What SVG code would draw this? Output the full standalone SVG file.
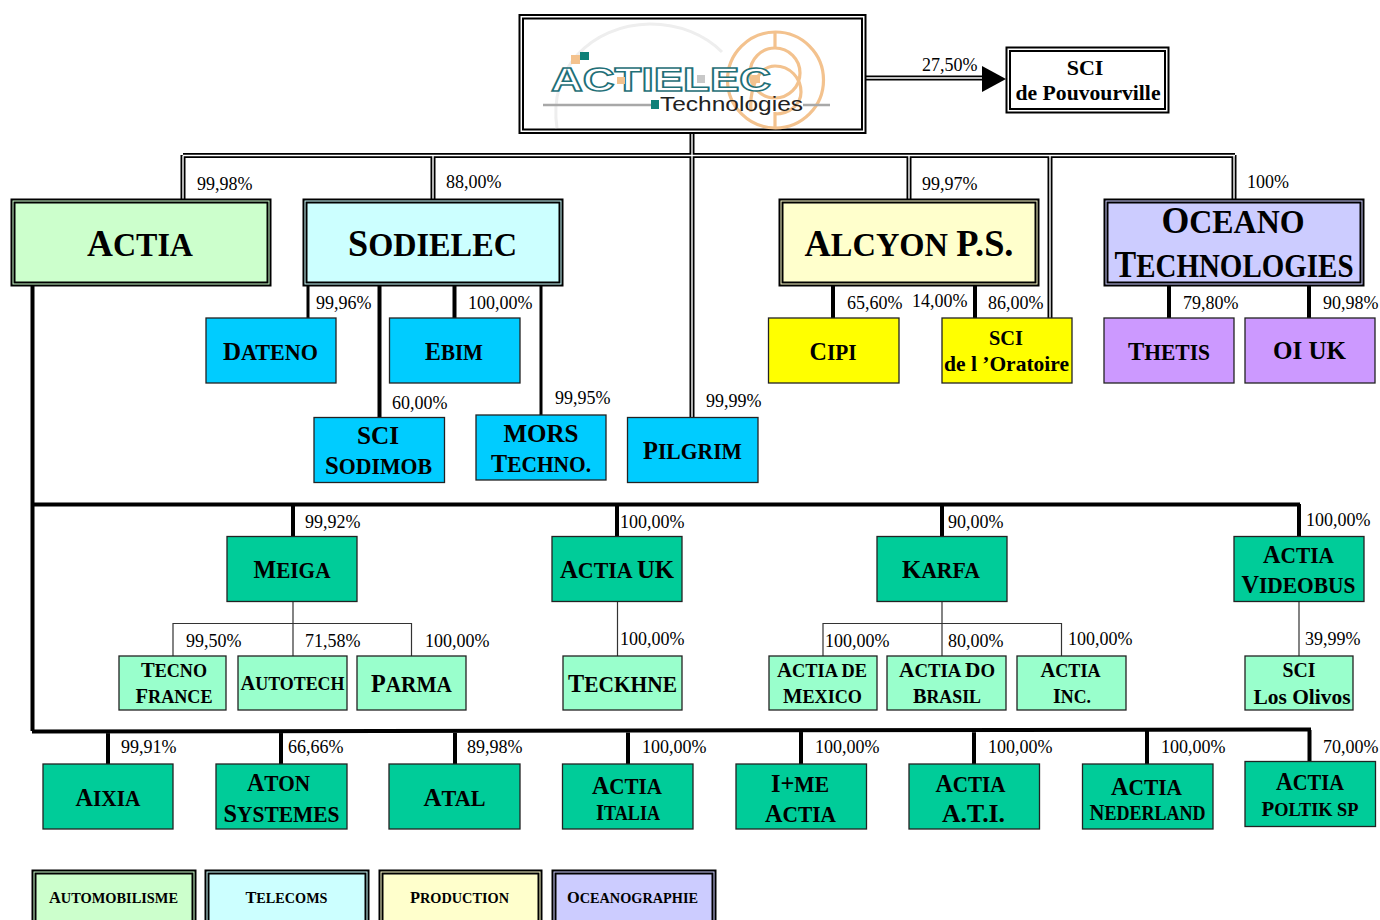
<svg xmlns="http://www.w3.org/2000/svg" width="1380" height="920" viewBox="0 0 1380 920">
<style>
text{font-family:"Liberation Serif","Times New Roman",serif;fill:#000}
.p{font-size:18px}
.t{font-weight:bold;text-anchor:middle}
.xl{font-size:37px}.xl tspan{font-size:33px}
.lg{font-size:26px}.lg tspan{font-size:23px}
.md{font-size:24px}.md tspan{font-size:21px}
.sm{font-size:21px}.sm tspan{font-size:18.500px}
.xs{font-size:16px}.xs tspan{font-size:14px}
.pl{font-size:22px}
.w{fill:#fff;stroke:#000;stroke-width:2}
.b,.y,.v,.g,.m{stroke:#222;stroke-width:1.300}
.b{fill:#00ccff}.y{fill:#ffff00}.v{fill:#cc99ff}.g{fill:#00cc99}.m{fill:#99ffcc}
.o{fill:none;stroke:#000;stroke-width:2}
.dbl{fill:none;stroke:#000;stroke-width:5}
.dbw{fill:none;stroke:#fff;stroke-width:1.400}
.k3{stroke:#000;stroke-width:3;fill:none}
.k4{stroke:#000;stroke-width:4;fill:none}
.k1{stroke:#333;stroke-width:1.200;fill:none}
.ring{fill:none;stroke:#f3c28e;stroke-width:3.200}
</style>
<g id="connectors">
<path class="dbl" d="M183 155.500H1235M183 155V199M433 155V199M692 134V417M909 155V199M1050 155V318M1234 155V199M866 78H985"/>
<path class="dbw" d="M183 155.500H1235M183 155.500V199M433 155.500V199M692 134V417M909 155.500V199M1050 155.500V318M1234 155.500V199M866 78H985"/>
<path d="M982 66L1006 79L982 92Z" fill="#000"/>
<path class="k3" d="M308 286V318M541 286V415"/>
<path class="k4" d="M379.500 286V417M454.500 286V318M833 286V318M975 286V318M1169 286V318M1309 286V318"/>
<path class="k4" d="M32.500 286V731M32 504.500H1300M293 504V536M617 504V536M942 504V536M1299 504V536"/>
<path class="k4" d="M32 731.500L1311 729.500M108 731V764M281 731V764M455 731V764M628 731V764M801 731V764M974 731V764M1147 731V764M1309.500 730V761"/>
<path class="k1" d="M293 602V656M173 656V623.500H411.500V656M617.500 602V656M942 602V656M823 656V623.500H1061.500V656M1299 602V656"/>
</g>
<g id="labels">
<text class="p" x="922" y="71">27,50%</text>
<text class="p" x="197" y="190">99,98%</text>
<text class="p" x="446" y="188">88,00%</text>
<text class="p" x="922" y="190">99,97%</text>
<text class="p" x="1247" y="188">100%</text>
<text class="p" x="316" y="309">99,96%</text>
<text class="p" x="468" y="309">100,00%</text>
<text class="p" x="847" y="309">65,60%</text>
<text class="p" x="912" y="307">14,00%</text>
<text class="p" x="988" y="309">86,00%</text>
<text class="p" x="1183" y="309">79,80%</text>
<text class="p" x="1323" y="309">90,98%</text>
<text class="p" x="392" y="409">60,00%</text>
<text class="p" x="555" y="404">99,95%</text>
<text class="p" x="706" y="407">99,99%</text>
<text class="p" x="305" y="528">99,92%</text>
<text class="p" x="620" y="528">100,00%</text>
<text class="p" x="948" y="528">90,00%</text>
<text class="p" x="1306" y="526">100,00%</text>
<text class="p" x="186" y="647">99,50%</text>
<text class="p" x="305" y="647">71,58%</text>
<text class="p" x="425" y="647">100,00%</text>
<text class="p" x="620" y="645">100,00%</text>
<text class="p" x="825" y="647">100,00%</text>
<text class="p" x="948" y="647">80,00%</text>
<text class="p" x="1068" y="645">100,00%</text>
<text class="p" x="1305" y="645">39,99%</text>
<text class="p" x="121" y="753">99,91%</text>
<text class="p" x="288" y="753">66,66%</text>
<text class="p" x="467" y="753">89,98%</text>
<text class="p" x="642" y="753">100,00%</text>
<text class="p" x="815" y="753">100,00%</text>
<text class="p" x="988" y="753">100,00%</text>
<text class="p" x="1161" y="753">100,00%</text>
<text class="p" x="1323" y="753">70,00%</text>
</g>
<g id="actielec">
<rect class="w" x="519.500" y="15" width="346" height="118"/>
<rect class="o" x="523" y="18.500" width="339" height="111"/>
<path d="M557 128C548 70 590 25 650 24C680 24 705 35 722 52" fill="none" stroke="#eeeeee" stroke-width="3"/>
<ellipse class="ring" cx="775.500" cy="80" rx="48" ry="48"/>
<circle class="ring" cx="775" cy="73" r="25"/>
<path class="ring" d="M751 112C749 85 760 66 775 66C790 66 801 78 801 92C801 104 790 114 775 114"/>
<path class="ring" d="M775 32V48M775 112V128"/>
<text x="551" y="91" textLength="220" lengthAdjust="spacingAndGlyphs" style="font-family:'Liberation Sans',Arial,sans-serif;font-size:33px;font-weight:bold;fill:#fff;stroke:#1f7078;stroke-width:1.500">ACTIELEC</text>
<rect x="571" y="55" width="9" height="9" fill="#f3c28e"/>
<rect x="580" y="52" width="9" height="8" fill="#0f8078"/>
<rect x="617" y="77" width="8" height="7" fill="#f3c28e"/>
<rect x="697" y="75" width="8" height="8" fill="#c8c8c8"/>
<rect x="752" y="75" width="8" height="8" fill="#f3c28e"/>
<path d="M543 105H652M803 105H830" stroke="#a8a8a8" stroke-width="2.500" fill="none"/>
<rect x="651" y="100" width="8" height="9" fill="#0f8078"/>
<text x="660" y="111" textLength="143" lengthAdjust="spacingAndGlyphs" style="font-family:'Liberation Sans',Arial,sans-serif;font-size:20px;fill:#222">Technologies</text>
</g>
<g id="sci-pouvourville">
<rect class="w" x="1006.500" y="47.500" width="162" height="65"/>
<rect class="o" x="1010" y="51" width="155" height="58"/>
<text class="t pl" x="1085" y="75">SCI</text>
<text class="t pl" x="1088" y="100" textLength="145" lengthAdjust="spacingAndGlyphs">de Pouvourville</text>
</g>
<g id="actia">
<rect x="11.500" y="199.500" width="259" height="86" fill="#ccffcc" stroke="#000" stroke-width="2"/>
<rect class="o" x="14.500" y="202.500" width="253" height="80"/>
<text class="t xl" x="140" y="256" textLength="106" lengthAdjust="spacingAndGlyphs">A<tspan>CTIA</tspan></text>
</g>
<g id="sodielec">
<rect x="303.500" y="199.500" width="259" height="86" fill="#ccffff" stroke="#000" stroke-width="2"/>
<rect class="o" x="306.500" y="202.500" width="253" height="80"/>
<text class="t xl" x="432.500" y="256" textLength="169" lengthAdjust="spacingAndGlyphs">S<tspan>ODIELEC</tspan></text>
</g>
<g id="alcyon">
<rect x="779.500" y="199.500" width="259" height="86" fill="#ffffcc" stroke="#000" stroke-width="2"/>
<rect class="o" x="782.500" y="202.500" width="253" height="80"/>
<text class="t xl" x="909" y="256" textLength="209" lengthAdjust="spacingAndGlyphs">A<tspan>LCYON </tspan>P.S.</text>
</g>
<g id="oceano">
<rect x="1104.500" y="199.500" width="259" height="86" fill="#ccccff" stroke="#000" stroke-width="2"/>
<rect class="o" x="1107.500" y="202.500" width="253" height="80"/>
<text class="t xl" x="1233" y="233" textLength="143" lengthAdjust="spacingAndGlyphs">O<tspan>CEANO</tspan></text>
<text class="t xl" transform="translate(1234 277) scale(.878 1)" x="0" y="0">T<tspan>ECHNOLOGIES</tspan></text>
</g>
<g id="dateno"><rect class="b" x="206" y="318" width="130" height="65"/><text class="t lg" x="270.500" y="360" textLength="95" lengthAdjust="spacingAndGlyphs">D<tspan>ATENO</tspan></text></g>
<g id="ebim"><rect class="b" x="389.500" y="318" width="130.500" height="65"/><text class="t lg" x="454" y="360" textLength="58" lengthAdjust="spacingAndGlyphs">E<tspan>BIM</tspan></text></g>
<g id="sodimob"><rect class="b" x="314" y="417.500" width="130.500" height="65"/><text class="t lg" x="378" y="444" textLength="42" lengthAdjust="spacingAndGlyphs">SCI</text><text class="t lg" x="378.500" y="474" textLength="107" lengthAdjust="spacingAndGlyphs">S<tspan>ODIMOB</tspan></text></g>
<g id="mors"><rect class="b" x="476" y="415" width="130" height="65"/><text class="t lg" x="541" y="442" textLength="75" lengthAdjust="spacingAndGlyphs">MORS</text><text class="t lg" x="541" y="472" textLength="100" lengthAdjust="spacingAndGlyphs">T<tspan>ECHNO.</tspan></text></g>
<g id="pilgrim"><rect class="b" x="627.500" y="417.500" width="130.500" height="65"/><text class="t lg" x="692.500" y="459" textLength="99" lengthAdjust="spacingAndGlyphs">P<tspan>ILGRIM</tspan></text></g>
<g id="cipi"><rect class="y" x="768.500" y="318" width="130.500" height="65"/><text class="t lg" x="833" y="360" textLength="47" lengthAdjust="spacingAndGlyphs">C<tspan>IPI</tspan></text></g>
<g id="oratoire"><rect class="y" x="942" y="318" width="130" height="65"/><text class="t pl" x="1006" y="345" textLength="34" lengthAdjust="spacingAndGlyphs">SCI</text><text class="t pl" x="1006.500" y="371" textLength="125" lengthAdjust="spacingAndGlyphs">de l ’Oratoire</text></g>
<g id="thetis"><rect class="v" x="1104" y="318" width="130" height="65"/><text class="t lg" x="1169" y="360" textLength="82" lengthAdjust="spacingAndGlyphs">T<tspan>HETIS</tspan></text></g>
<g id="oiuk"><rect class="v" x="1245" y="318" width="130" height="65"/><text class="t lg" x="1309.500" y="359" textLength="73" lengthAdjust="spacingAndGlyphs">OI UK</text></g>
<g id="meiga"><rect class="g" x="227" y="536.500" width="130" height="65"/><text class="t lg" x="292" y="578" textLength="77" lengthAdjust="spacingAndGlyphs">M<tspan>EIGA</tspan></text></g>
<g id="actia-uk"><rect class="g" x="552" y="536.500" width="130" height="65"/><text class="t lg" x="617" y="578" textLength="114" lengthAdjust="spacingAndGlyphs">A<tspan>CTIA </tspan>UK</text></g>
<g id="karfa"><rect class="g" x="877" y="536.500" width="130" height="65"/><text class="t lg" x="941" y="578" textLength="78" lengthAdjust="spacingAndGlyphs">K<tspan>ARFA</tspan></text></g>
<g id="videobus"><rect class="g" x="1234" y="536.500" width="130" height="65"/><text class="t lg" x="1298.500" y="563" textLength="71" lengthAdjust="spacingAndGlyphs">A<tspan>CTIA</tspan></text><text class="t lg" x="1298.500" y="593" textLength="114" lengthAdjust="spacingAndGlyphs">V<tspan>IDEOBUS</tspan></text></g>
<g id="tecno"><rect class="m" x="119" y="656" width="107" height="54"/><text class="t sm" x="174" y="677" textLength="66" lengthAdjust="spacingAndGlyphs">T<tspan>ECNO</tspan></text><text class="t sm" x="174" y="703" textLength="77" lengthAdjust="spacingAndGlyphs">F<tspan>RANCE</tspan></text></g>
<g id="autotech"><rect class="m" x="238" y="656" width="109" height="54"/><text class="t sm" x="292.500" y="690" textLength="104" lengthAdjust="spacingAndGlyphs">A<tspan>UTOTECH</tspan></text></g>
<g id="parma"><rect class="m" x="357" y="656" width="109" height="54"/><text class="t lg" x="411.500" y="692" textLength="81" lengthAdjust="spacingAndGlyphs">P<tspan>ARMA</tspan></text></g>
<g id="teckhne"><rect class="m" x="563" y="656" width="119" height="54"/><text class="t lg" x="622.500" y="692" textLength="109" lengthAdjust="spacingAndGlyphs">T<tspan>ECKHNE</tspan></text></g>
<g id="mexico"><rect class="m" x="769" y="656" width="108" height="54"/><text class="t sm" x="822" y="677" textLength="90" lengthAdjust="spacingAndGlyphs">A<tspan>CTIA DE</tspan></text><text class="t sm" x="822.500" y="703" textLength="79" lengthAdjust="spacingAndGlyphs">M<tspan>EXICO</tspan></text></g>
<g id="brasil"><rect class="m" x="887" y="656" width="119" height="54"/><text class="t sm" x="947" y="677" textLength="96" lengthAdjust="spacingAndGlyphs">A<tspan>CTIA </tspan>D<tspan>O</tspan></text><text class="t sm" x="947" y="703" textLength="68" lengthAdjust="spacingAndGlyphs">B<tspan>RASIL</tspan></text></g>
<g id="inc"><rect class="m" x="1017" y="656" width="109" height="54"/><text class="t sm" x="1070.500" y="677" textLength="60" lengthAdjust="spacingAndGlyphs">A<tspan>CTIA</tspan></text><text class="t sm" x="1072" y="703" textLength="38" lengthAdjust="spacingAndGlyphs">I<tspan>NC.</tspan></text></g>
<g id="olivos"><rect class="m" x="1245" y="656" width="108" height="54"/><text class="t pl" x="1299" y="677" textLength="33" lengthAdjust="spacingAndGlyphs">SCI</text><text class="t pl" x="1302" y="704" textLength="97" lengthAdjust="spacingAndGlyphs">Los Olivos</text></g>
<g id="aixia"><rect class="g" x="43" y="764" width="130" height="65"/><text class="t lg" x="108" y="806" textLength="65" lengthAdjust="spacingAndGlyphs">A<tspan>IXIA</tspan></text></g>
<g id="aton"><rect class="g" x="216" y="764" width="131" height="65"/><text class="t lg" x="278.500" y="791" textLength="63" lengthAdjust="spacingAndGlyphs">A<tspan>TON</tspan></text><text class="t lg" x="281.500" y="822" textLength="116" lengthAdjust="spacingAndGlyphs">S<tspan>YSTEMES</tspan></text></g>
<g id="atal"><rect class="g" x="389" y="764" width="131" height="65"/><text class="t lg" x="454.500" y="806" textLength="62" lengthAdjust="spacingAndGlyphs">A<tspan>TAL</tspan></text></g>
<g id="italia"><rect class="g" x="562.500" y="764" width="130.500" height="65"/><text class="t lg" x="627" y="794" textLength="70" lengthAdjust="spacingAndGlyphs">A<tspan>CTIA</tspan></text><text class="t md" x="628" y="820" textLength="64" lengthAdjust="spacingAndGlyphs">I<tspan>TALIA</tspan></text></g>
<g id="ime"><rect class="g" x="736" y="764" width="130.500" height="65"/><text class="t lg" x="800" y="792" textLength="58" lengthAdjust="spacingAndGlyphs">I+<tspan>ME</tspan></text><text class="t lg" x="800.500" y="822" textLength="71" lengthAdjust="spacingAndGlyphs">A<tspan>CTIA</tspan></text></g>
<g id="ati"><rect class="g" x="909" y="764" width="130.500" height="65"/><text class="t lg" x="970.500" y="792" textLength="70" lengthAdjust="spacingAndGlyphs">A<tspan>CTIA</tspan></text><text class="t lg" x="973.500" y="822" textLength="63" lengthAdjust="spacingAndGlyphs">A.T.I.</text></g>
<g id="nederland"><rect class="g" x="1082.500" y="764" width="130.500" height="65"/><text class="t lg" x="1146.500" y="795" textLength="71" lengthAdjust="spacingAndGlyphs">A<tspan>CTIA</tspan></text><text class="t md" x="1147.500" y="820" textLength="116" lengthAdjust="spacingAndGlyphs">N<tspan>EDERLAND</tspan></text></g>
<g id="poltik"><rect class="g" x="1245" y="761.500" width="130.500" height="65"/><text class="t lg" x="1310" y="790" textLength="68" lengthAdjust="spacingAndGlyphs">A<tspan>CTIA</tspan></text><text class="t sm" x="1310" y="816" textLength="97" lengthAdjust="spacingAndGlyphs">P<tspan>OLTIK SP</tspan></text></g>
<g id="legend-auto"><rect x="32.500" y="870.500" width="163" height="60" fill="#ccffcc" stroke="#000" stroke-width="2"/><rect class="o" x="35.500" y="873.500" width="157" height="60"/><text class="t xs" x="113.500" y="903" textLength="129" lengthAdjust="spacingAndGlyphs">A<tspan>UTOMOBILISME</tspan></text></g>
<g id="legend-telecoms"><rect x="205.500" y="870.500" width="163" height="60" fill="#ccffff" stroke="#000" stroke-width="2"/><rect class="o" x="208.500" y="873.500" width="157" height="60"/><text class="t xs" x="286.500" y="903" textLength="82" lengthAdjust="spacingAndGlyphs">T<tspan>ELECOMS</tspan></text></g>
<g id="legend-production"><rect x="379.500" y="870.500" width="162" height="60" fill="#ffffcc" stroke="#000" stroke-width="2"/><rect class="o" x="382.500" y="873.500" width="156" height="60"/><text class="t xs" x="459.500" y="903" textLength="99" lengthAdjust="spacingAndGlyphs">P<tspan>RODUCTION</tspan></text></g>
<g id="legend-oceano"><rect x="552.500" y="870.500" width="163" height="60" fill="#ccccff" stroke="#000" stroke-width="2"/><rect class="o" x="555.500" y="873.500" width="157" height="60"/><text class="t xs" x="632.500" y="903" textLength="131" lengthAdjust="spacingAndGlyphs">O<tspan>CEANOGRAPHIE</tspan></text></g>
</svg>
